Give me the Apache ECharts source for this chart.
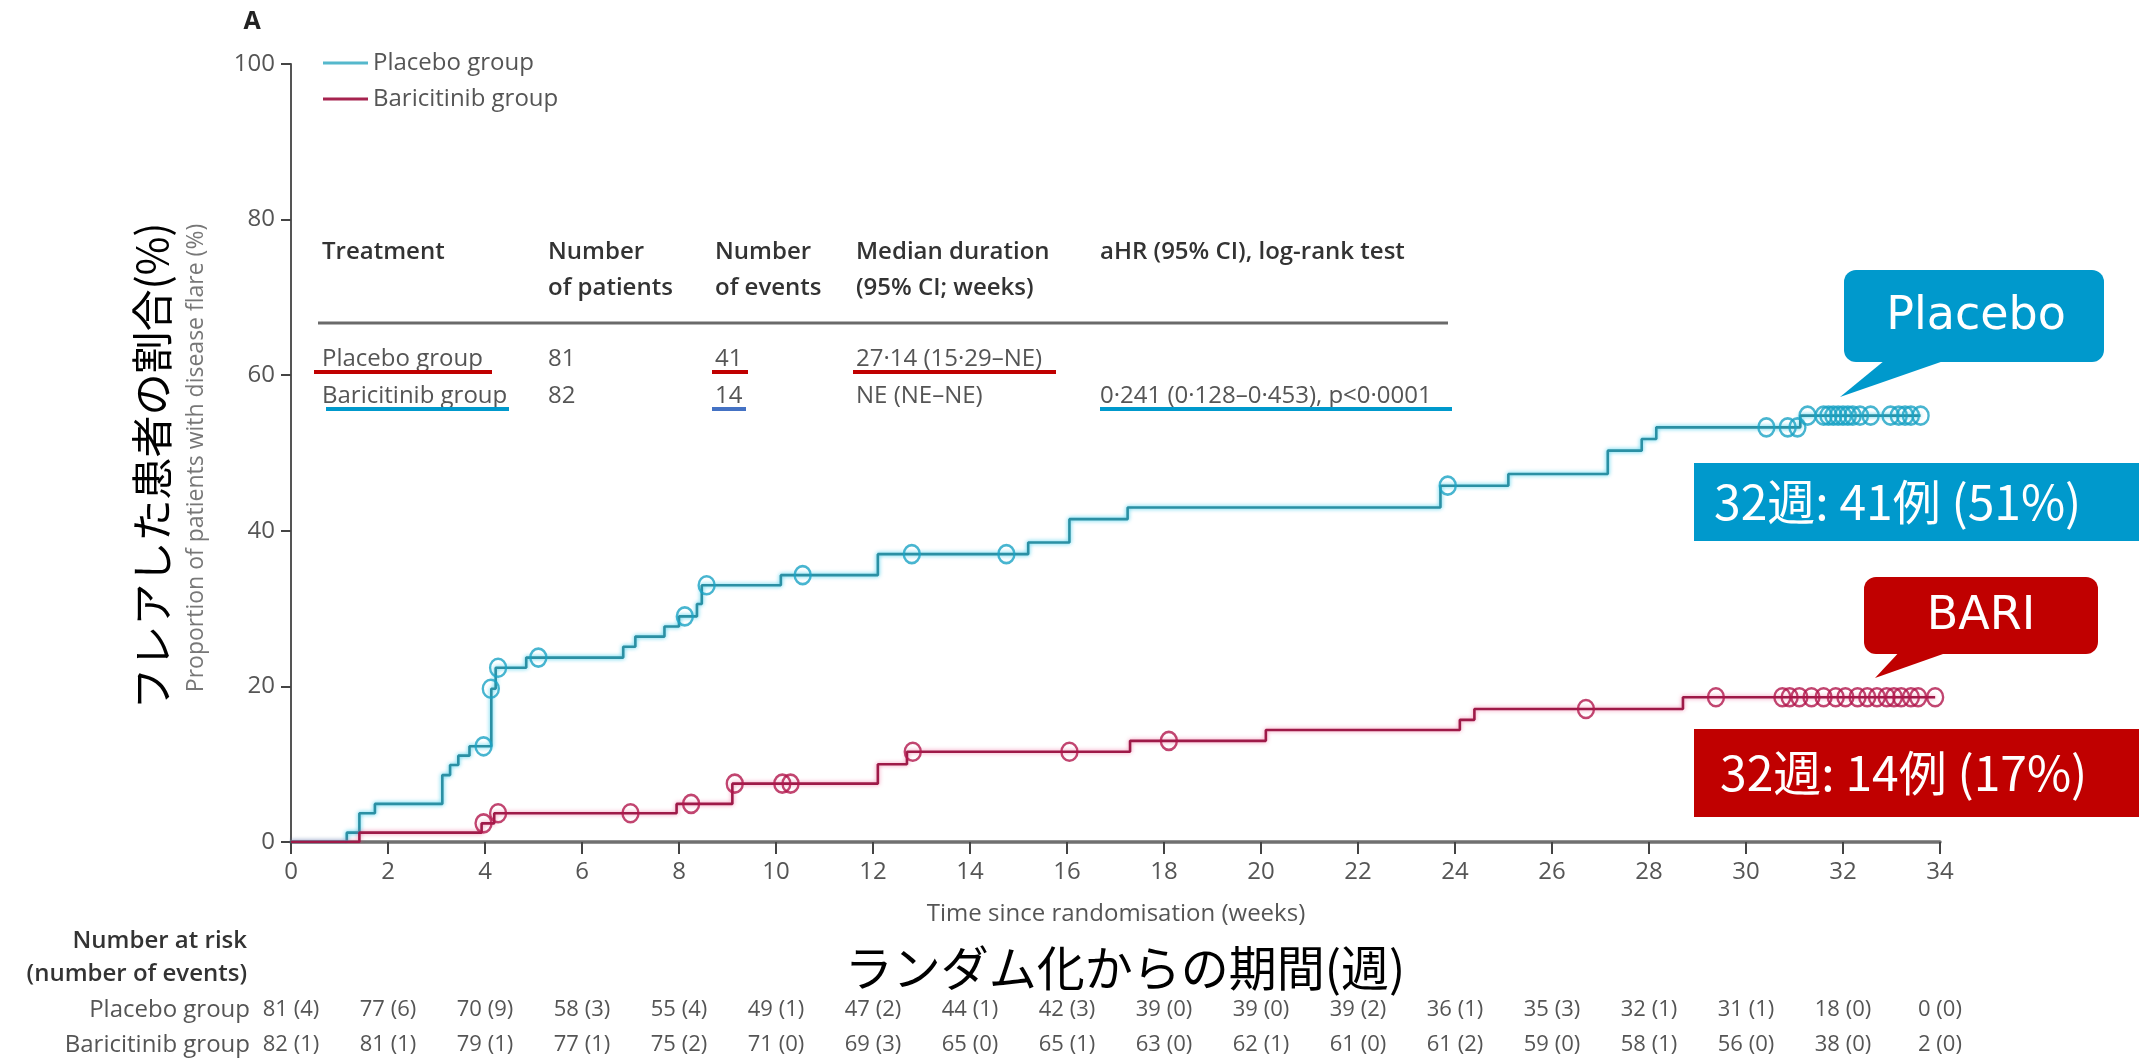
<!DOCTYPE html>
<html>
<head>
<meta charset="utf-8">
<script src="https://cdn.jsdelivr.net/npm/echarts@6/dist/echarts.min.js"></script>
<style>
  html, body { margin: 0; padding: 0; background: #ffffff; }
  #chart { width: 2139px; height: 1064px; }
</style>
</head>
<body>
<div id="chart"></div>
<script>
// Kaplan–Meier curves: cumulative proportion of patients with disease flare (%)
const placeboEventWeeks = [0, 1.15, 1.41, 1.73, 3.12, 3.28, 3.45, 3.68, 4.13, 4.22, 4.85, 6.85, 7.1, 7.7, 8.0, 8.37, 8.47, 10.1, 12.1, 15.2, 16.05, 17.25, 23.7, 25.1, 27.15, 27.85, 28.15, 31.12, 33.6];
const placeboFlarePct  = [0, 1.2, 3.7, 4.9, 8.6, 9.9, 11.1, 12.3, 19.7, 22.4, 23.7, 25.1, 26.4, 27.7, 29.0, 30.6, 33.0, 34.3, 37.0, 38.5, 41.5, 43.0, 45.8, 47.3, 50.3, 51.8, 53.3, 54.8, 54.8];

const placeboCensorWeeks = [3.97, 4.12, 4.27, 5.1, 8.12, 8.57, 10.55, 12.8, 14.75, 23.85, 30.42, 30.86, 31.06, 31.27, 31.6, 31.7, 31.8, 31.9, 32.0, 32.1, 32.2, 32.35, 32.57, 32.98, 33.15, 33.28, 33.4, 33.6];
const placeboCensorPct   = [12.3, 19.7, 22.4, 23.7, 29.0, 33.0, 34.3, 37.0, 37.0, 45.8, 53.3, 53.3, 53.3, 54.8, 54.8, 54.8, 54.8, 54.8, 54.8, 54.8, 54.8, 54.8, 54.8, 54.8, 54.8, 54.8, 54.8, 54.8];

const bariEventWeeks = [0, 1.41, 3.93, 4.19, 7.95, 9.1, 12.1, 12.7, 17.3, 20.1, 24.1, 24.4, 28.7, 33.9];
const bariFlarePct   = [0, 1.2, 2.4, 3.7, 4.9, 7.5, 10.0, 11.6, 13.0, 14.4, 15.7, 17.1, 18.6, 18.6];

const bariCensorWeeks = [3.97, 4.27, 7.0, 8.25, 9.15, 10.13, 10.3, 12.82, 16.05, 18.1, 26.7, 29.38, 30.75, 30.9, 31.1, 31.35, 31.6, 31.85, 32.05, 32.3, 32.5, 32.7, 32.9, 33.05, 33.2, 33.4, 33.55, 33.9];
const bariCensorPct   = [2.4, 3.7, 3.7, 4.9, 7.5, 7.5, 7.5, 11.6, 11.6, 13.0, 17.1, 18.6, 18.6, 18.6, 18.6, 18.6, 18.6, 18.6, 18.6, 18.6, 18.6, 18.6, 18.6, 18.6, 18.6, 18.6, 18.6, 18.6];

// Number at risk (number of events) at each 2-week mark, 0 … 34
const placeboAtRisk = [81, 77, 70, 58, 55, 49, 47, 44, 42, 39, 39, 39, 36, 35, 32, 31, 18, 0];
const placeboEvents = [4, 6, 9, 3, 4, 1, 2, 1, 3, 0, 0, 2, 1, 3, 1, 1, 0, 0];
const bariAtRisk    = [82, 81, 79, 77, 75, 71, 69, 65, 65, 63, 62, 61, 61, 59, 58, 56, 38, 2];
const bariEvents    = [1, 1, 1, 1, 2, 0, 3, 0, 1, 0, 1, 0, 2, 0, 1, 0, 0, 0];

// Summary table
const tableHeader1 = ['Treatment', 'Number', 'Number', 'Median duration', 'aHR (95% CI), log-rank test'];
const tableHeader2 = ['', 'of patients', 'of events', '(95% CI; weeks)', ''];
const tablePlacebo = ['Placebo group', '81', '41', '27·14 (15·29–NE)', ''];
const tableBari    = ['Baricitinib group', '82', '14', 'NE (NE–NE)', '0·241 (0·128–0·453), p<0·0001'];

// Text labels
const seriesNames = ['Placebo group', 'Baricitinib group'];
const xTitleEn = 'Time since randomisation (weeks)';
const xTitleJa = 'ランダム化からの期間(週)';
const yTitleEn = 'Proportion of patients with disease flare (%)';
const yTitleJa = 'フレアした患者の割合(%)';
const calloutPlacebo = 'Placebo';
const calloutBari = 'BARI';
const summaryPlacebo = '32週: 41例 (51%)';
const summaryBari = '32週: 14例 (17%)';

// ---- layout & style ----
const LATIN = '"Open Sans", "Liberation Sans", sans-serif';
const CJK = '"Noto Sans CJK JP", sans-serif';
const CALLOUT = '"DejaVu Sans", Verdana, sans-serif';
const GRAY = '#555555';
const BLUE = '#0099CC';
const RED = '#C00000';
const PLACEBO_LINE = '#2b90a4';
const PLACEBO_MARK = '#1aa2c4';
const BARI_LINE = '#9e1a48';
const BARI_MARK = '#b2164c';

const pairs = (xs, ys) => xs.map((x, i) => [x, ys[i]]);

const colX = [322, 548, 715, 856, 1100];

function txt(x, y, text, opts) {
  return {
    type: 'text', x: x, y: y, silent: true,
    style: Object.assign({
      text: text, fill: GRAY, font: '24px ' + LATIN,
      textAlign: 'left', textVerticalAlign: 'middle'
    }, opts || {})
  };
}
function bar(x1, x2, y, color, h) {
  return { type: 'rect', silent: true, shape: { x: x1, y: y - (h || 4) / 2, width: x2 - x1, height: h || 4 }, style: { fill: color } };
}

const graphics = [];
graphics.push(txt(252, 22, 'A', { fill: '#222', font: 'bold 25px ' + LATIN, textAlign: 'center' }));

// table
tableHeader1.forEach((t, i) => graphics.push(txt(colX[i], 252, t, { fill: '#333', font: '600 24px ' + LATIN })));
tableHeader2.forEach((t, i) => { if (t) graphics.push(txt(colX[i], 288, t, { fill: '#333', font: '600 24px ' + LATIN })); });
graphics.push(bar(318, 1448, 323, '#6a6a6a', 3));
tablePlacebo.forEach((t, i) => { if (t) graphics.push(txt(colX[i], 359, t)); });
tableBari.forEach((t, i) => { if (t) graphics.push(txt(colX[i], 396, t)); });
graphics.push(bar(314, 492, 372, RED));
graphics.push(bar(712, 748, 372, RED));
graphics.push(bar(853, 1056, 372, RED));
graphics.push(bar(326, 509, 409, BLUE));
graphics.push(bar(712, 746, 409, '#4472C4'));
graphics.push(bar(1100, 1452, 409, BLUE));

// axis titles
graphics.push(txt(1116, 914, xTitleEn, { textAlign: 'center', font: '24px ' + LATIN }));
graphics.push(txt(1125, 968, xTitleJa, { textAlign: 'center', fill: '#000', font: '48px ' + CJK }));
graphics.push(Object.assign(txt(196, 458, yTitleEn, { textAlign: 'center', fill: '#777', font: '23px ' + LATIN }), { rotation: Math.PI / 2 }));
graphics.push(Object.assign(txt(152, 466, yTitleJa, { textAlign: 'center', fill: '#000', font: '42px ' + CJK }), { rotation: Math.PI / 2 }));

// number at risk block
graphics.push(txt(247, 941, 'Number at risk', { textAlign: 'right', fill: '#333', font: '600 24px ' + LATIN }));
graphics.push(txt(247, 974, '(number of events)', { textAlign: 'right', fill: '#333', font: '600 24px ' + LATIN }));
graphics.push(txt(250, 1010, seriesNames[0], { textAlign: 'right' }));
graphics.push(txt(250, 1045, seriesNames[1], { textAlign: 'right' }));

// callouts
graphics.push({ type: 'polygon', silent: true, shape: { points: [[1890, 356], [1958, 356], [1840, 397]] }, style: { fill: BLUE } });
graphics.push({ type: 'rect', silent: true, shape: { x: 1844, y: 270, width: 260, height: 92, r: 12 }, style: { fill: BLUE } });
graphics.push(txt(1976, 317, calloutPlacebo, { textAlign: 'center', fill: '#fff', font: '46px ' + CALLOUT }));

graphics.push({ type: 'rect', silent: true, shape: { x: 1694, y: 463, width: 445, height: 78 }, style: { fill: BLUE } });
graphics.push(txt(1714, 502, summaryPlacebo, { fill: '#fff', font: '48px ' + CJK }));

graphics.push({ type: 'polygon', silent: true, shape: { points: [[1903, 648], [1960, 648], [1875, 678]] }, style: { fill: RED } });
graphics.push({ type: 'rect', silent: true, shape: { x: 1864, y: 577, width: 234, height: 77, r: 12 }, style: { fill: RED } });
graphics.push(txt(1981, 617, calloutBari, { textAlign: 'center', fill: '#fff', font: '46px ' + CALLOUT }));

graphics.push({ type: 'rect', silent: true, shape: { x: 1694, y: 729, width: 445, height: 88 }, style: { fill: RED } });
graphics.push(txt(1720, 773, summaryBari, { fill: '#fff', font: '48px ' + CJK }));

function riskAxis(gridIndex, atRisk, events) {
  return {
    type: 'value', gridIndex: gridIndex, min: 0, max: 34, interval: 2,
    axisLine: { show: false }, axisTick: { show: false }, splitLine: { show: false },
    axisLabel: {
      margin: 0, verticalAlign: 'middle', fontSize: 22, fontFamily: LATIN, color: GRAY,
      formatter: v => { const i = Math.round(v / 2); return atRisk[i] + ' (' + events[i] + ')'; }
    }
  };
}
function hiddenY(gridIndex) {
  return { type: 'value', gridIndex: gridIndex, show: false, min: 0, max: 1 };
}

const chart = echarts.init(document.getElementById('chart'), null, { renderer: 'canvas' });
chart.setOption({
  backgroundColor: '#ffffff',
  animation: false,
  textStyle: { fontFamily: LATIN },
  grid: [
    { left: 291, top: 64, width: 1649, height: 778 },
    { left: 291, top: 1009, width: 1649, height: 1 },
    { left: 291, top: 1044, width: 1649, height: 1 }
  ],
  legend: {
    left: 323, top: 51, orient: 'vertical', padding: 0, itemGap: 12,
    itemWidth: 45, itemHeight: 3,
    textStyle: { fontSize: 24, color: GRAY, fontFamily: LATIN, lineHeight: 24 },
    data: [
      { name: seriesNames[0], icon: 'rect', itemStyle: { color: '#55b8cc' } },
      { name: seriesNames[1], icon: 'rect', itemStyle: { color: '#a6234f' } }
    ]
  },
  xAxis: [
    {
      type: 'value', gridIndex: 0, min: 0, max: 34, interval: 2,
      axisLine: { show: true, lineStyle: { color: '#707070', width: 3.5 } },
      axisTick: { show: true, length: 12, lineStyle: { color: '#444', width: 2 } },
      axisLabel: { margin: 18, fontSize: 24, color: GRAY, fontFamily: LATIN },
      splitLine: { show: false }
    },
    riskAxis(1, placeboAtRisk, placeboEvents),
    riskAxis(2, bariAtRisk, bariEvents)
  ],
  yAxis: [
    {
      type: 'value', gridIndex: 0, min: 0, max: 100, interval: 20,
      axisLine: { show: true, lineStyle: { color: '#555', width: 2 } },
      axisTick: { show: true, length: 10, lineStyle: { color: '#444', width: 2 } },
      axisLabel: { margin: 16, fontSize: 24, color: GRAY, fontFamily: LATIN },
      splitLine: { show: false }
    },
    hiddenY(1),
    hiddenY(2)
  ],
  series: [
    {
      name: seriesNames[0], type: 'line', step: 'end', showSymbol: false, z: 3,
      data: pairs(placeboEventWeeks, placeboFlarePct),
      lineStyle: { color: PLACEBO_LINE, width: 2.6, shadowColor: 'rgba(0,190,230,0.75)', shadowBlur: 4 },
      itemStyle: { color: PLACEBO_LINE }
    },
    {
      name: seriesNames[1], type: 'line', step: 'end', showSymbol: false, z: 3,
      data: pairs(bariEventWeeks, bariFlarePct),
      lineStyle: { color: BARI_LINE, width: 2.6, shadowColor: 'rgba(235,70,130,0.6)', shadowBlur: 4 },
      itemStyle: { color: BARI_LINE }
    },
    {
      name: 'placebo censored', type: 'scatter', z: 4, symbol: 'circle', symbolSize: [16, 18],
      data: pairs(placeboCensorWeeks, placeboCensorPct),
      itemStyle: { color: 'rgba(0,0,0,0)', borderColor: PLACEBO_MARK, borderWidth: 2.5 }
    },
    {
      name: 'baricitinib censored', type: 'scatter', z: 4, symbol: 'circle', symbolSize: [16, 18],
      data: pairs(bariCensorWeeks, bariCensorPct),
      itemStyle: { color: 'rgba(0,0,0,0)', borderColor: BARI_MARK, borderWidth: 2.5 }
    }
  ],
  graphic: { elements: graphics }
});
</script>
</body>
</html>
